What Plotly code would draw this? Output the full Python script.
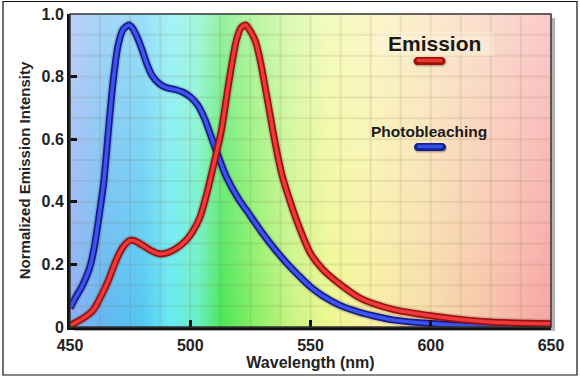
import plotly.graph_objects as go
import numpy as np

# ---------------- data ----------------
wl_photo = [450, 452, 455, 458, 460, 462, 464, 466, 468, 470, 472, 474.5, 476, 478, 480, 482,
            484, 487, 490, 494, 497, 500, 503, 506, 510, 515, 520, 525, 530, 535, 540, 545,
            550, 555, 562, 570, 576, 585, 600, 620, 650]
photobleaching = [0.06, 0.09, 0.13, 0.185, 0.25, 0.35, 0.46, 0.63, 0.79, 0.90, 0.95, 0.965, 0.955,
                  0.925, 0.885, 0.84, 0.805, 0.778, 0.765, 0.758, 0.75, 0.735, 0.71, 0.665, 0.58,
                  0.48, 0.41, 0.355, 0.30, 0.25, 0.205, 0.165, 0.128, 0.10, 0.07, 0.048, 0.036,
                  0.022, 0.011, 0.004, 0.0]

wl_emis = [450, 452, 455, 458, 460, 463, 466, 469, 472, 475, 477, 480, 484, 487, 490, 494, 498,
           501, 504, 507, 510, 513, 516, 519, 521, 523, 525, 527, 529, 532, 535, 538, 542, 546,
           550, 555, 562, 570, 576, 585, 600, 615, 625, 640, 650]
emission = [0.005, 0.013, 0.026, 0.042, 0.058, 0.10, 0.15, 0.21, 0.255, 0.277, 0.275, 0.262, 0.243,
            0.234, 0.236, 0.25, 0.275, 0.305, 0.35, 0.43, 0.527, 0.63, 0.78, 0.91, 0.955, 0.965,
            0.945, 0.915, 0.855, 0.73, 0.60, 0.49, 0.39, 0.305, 0.235, 0.185, 0.138, 0.095,
            0.075, 0.055, 0.036, 0.022, 0.016, 0.012, 0.01]

x_tickvals = [450, 500, 550, 600, 650]
x_ticktext = ["450", "500", "550", "600", "650"]
y_tickvals = [0, 0.2, 0.4, 0.6, 0.8, 1.0]
y_ticktext = ["0", "0.2", "0.4", "0.6", "0.8", "1.0"]

# spectrum background colour stops (wavelength, colour)
spectrum_stops = [(450, "#8eb0f2"), (465, "#62b8f2"), (480, "#54c8f2"), (492, "#68eaf0"),
                  (503, "#68f0c4"), (513, "#4ae65a"), (527, "#8af064"), (542, "#c8f484"),
                  (558, "#eef892"), (575, "#f8f0a2"), (600, "#f8dcaa"), (625, "#f8c2aa"),
                  (650, "#f8a4a4")]

# ---------------- geometry helpers ----------------
W, H = 580, 378
ML, MR, MT, MB = 70, 29, 14, 51
PW, PH = W - ML - MR, H - MT - MB


def px(x):
    return (x - ML) / PW


def py(y):
    return (H - MB - y) / PH


fig = go.Figure()

# background spectrum
xe = np.linspace(450, 650, 201)
ye = np.linspace(0, 1.0, 41)
xc = (xe[:-1] + xe[1:]) / 2
yc = (ye[:-1] + ye[1:]) / 2
z_spec = np.tile(xc, (len(yc), 1))
cs = [[(w - 450) / 200, c] for w, c in spectrum_stops]
fig.add_trace(go.Heatmap(x=xe, y=ye, z=z_spec, colorscale=cs, zmin=450, zmax=650,
                         showscale=False, hoverinfo="skip"))
z_white = np.tile(yc[:, None], (1, len(xc)))
fig.add_trace(go.Heatmap(x=xe, y=ye, z=z_white, zmin=0, zmax=1.0,
                         colorscale=[[0, "rgba(255,255,255,0)"], [1, "rgba(255,255,255,0.42)"]],
                         showscale=False, hoverinfo="skip"))

# tile grid
gx, gy = [], []
for v in np.arange(450 + 12.5, 650, 12.5):
    gx += [v, v, None]
    gy += [0, 1.0, None]
for h in np.arange(1 / 15, 1.0, 1 / 15):
    gx += [450, 650, None]
    gy += [h, h, None]
fig.add_trace(go.Scatter(x=gx, y=gy, mode="lines", line=dict(color="rgba(120,110,70,0.13)", width=2),
                         hoverinfo="skip", showlegend=False))


def curve(x, y, dark, bright, name):
    fig.add_trace(go.Scatter(x=x, y=y, mode="lines", line=dict(color="rgba(0,0,0,0.13)", width=10, shape="spline", smoothing=0.7),
                             hoverinfo="skip", showlegend=False))
    fig.add_trace(go.Scatter(x=x, y=y, mode="lines", line=dict(color=dark, width=7, shape="spline", smoothing=0.7),
                             hoverinfo="skip", showlegend=False))
    fig.add_trace(go.Scatter(x=x, y=y, mode="lines", name=name, line=dict(color=bright, width=3.5, shape="spline", smoothing=0.7),
                             showlegend=False))


curve(wl_photo, photobleaching, "#1a1a8c", "#3c55f0", "Photobleaching")
curve(wl_emis, emission, "#9c1010", "#f03a3a", "Emission")


def pill(cx, cy, w, h):
    x0, x1 = px(cx - w / 2), px(cx + w / 2)
    r = h / 2
    y0, y1 = py(cy + h / 2), py(cy - h / 2)
    xr = r / PW
    ym = py(cy)
    k = 0.55
    return (f"M {x0 + xr} {y0} L {x1 - xr} {y0} "
            f"C {x1 - xr + k * xr} {y0} {x1} {ym - k * (ym - y0)} {x1} {ym} "
            f"C {x1} {ym + k * (y1 - ym)} {x1 - xr + k * xr} {y1} {x1 - xr} {y1} "
            f"L {x0 + xr} {y1} "
            f"C {x0 + xr - k * xr} {y1} {x0} {ym + k * (y1 - ym)} {x0} {ym} "
            f"C {x0} {ym - k * (ym - y0)} {x0 + xr - k * xr} {y0} {x0 + xr} {y0} Z")


shapes = [
    # drop shadow of the plot frame
    dict(type="rect", xref="paper", yref="paper", x0=px(ML + 4), x1=px(ML + PW + 4),
         y0=py(H - MB + 4), y1=py(MT + 4), fillcolor="rgba(0,0,0,0.3)", line=dict(width=0), layer="below"),
    # frame
    dict(type="rect", xref="paper", yref="paper", x0=0, x1=1, y0=0, y1=1,
         line=dict(color="#333333", width=1.5), layer="above"),
    # outer border of the picture
    dict(type="rect", xref="paper", yref="paper", x0=px(3), x1=px(577), y0=py(375), y1=py(1.5),
         line=dict(color="#111111", width=1.2), layer="above"),
    # emission label box
    dict(type="rect", xref="paper", yref="paper", x0=px(376), x1=px(493), y0=py(56), y1=py(32),
         fillcolor="rgba(255,246,222,0.45)", line=dict(width=0), layer="above"),
    # legend pills
    dict(type="path", xref="paper", yref="paper", path=pill(430, 62, 33, 9),
         fillcolor="rgba(0,0,0,0.25)", line=dict(width=0), layer="above"),
    dict(type="path", xref="paper", yref="paper", path=pill(429.5, 61, 32, 8),
         fillcolor="#a01010", line=dict(width=0), layer="above"),
    dict(type="path", xref="paper", yref="paper", path=pill(429.5, 60.5, 26, 3.5),
         fillcolor="#e83a2a", line=dict(width=0), layer="above"),
    dict(type="path", xref="paper", yref="paper", path=pill(430.5, 148, 33, 9),
         fillcolor="rgba(0,0,0,0.25)", line=dict(width=0), layer="above"),
    dict(type="path", xref="paper", yref="paper", path=pill(430, 147, 32, 8),
         fillcolor="#14208e", line=dict(width=0), layer="above"),
    dict(type="path", xref="paper", yref="paper", path=pill(430, 146.5, 26, 3.5),
         fillcolor="#3050e8", line=dict(width=0), layer="above"),
]

annotations = [
    dict(text="Emission", x=px(434), y=py(43.5), xref="paper", yref="paper", showarrow=False,
         xanchor="center", yanchor="middle",
         font=dict(family="Liberation Sans, Arial, sans-serif", size=21, color="#1a1a1a", weight="bold")),
    dict(text="Photobleaching", x=px(429), y=py(131), xref="paper", yref="paper", showarrow=False,
         xanchor="center", yanchor="middle",
         font=dict(family="Liberation Sans, Arial, sans-serif", size=15.5, color="#1a1a1a", weight="bold")),
]

fontb = dict(family="Liberation Sans, Arial, sans-serif", size=16, color="#222222", weight="bold")

fig.update_layout(
    width=W, height=H,
    margin=dict(l=ML, r=MR, t=MT, b=MB, autoexpand=False),
    paper_bgcolor="white", plot_bgcolor="white",
    showlegend=False,
    shapes=shapes, annotations=annotations,
    xaxis=dict(range=[450, 650], tickvals=x_tickvals, ticktext=x_ticktext, showgrid=False,
               zeroline=False, showline=True, linecolor="#111111", linewidth=3,
               ticks="inside", ticklen=7, tickwidth=3, tickcolor="#111111",
               tickfont=fontb, ticklabelstandoff=2, layer="above traces",
               title=dict(text="Wavelength (nm)", font=dict(family="Liberation Sans, Arial, sans-serif",
                                                             size=16, color="#222222", weight="bold"),
                          standoff=0)),
    yaxis=dict(range=[0, 1.0], tickvals=y_tickvals, ticktext=y_ticktext, showgrid=False,
               zeroline=False, showline=True, linecolor="#111111", linewidth=3,
               ticks="inside", ticklen=7, tickwidth=3, tickcolor="#111111",
               tickfont=fontb, ticklabelstandoff=0, layer="above traces",
               title=dict(text="Normalized Emission Intensity",
                          font=dict(family="Liberation Sans, Arial, sans-serif", size=15,
                                    color="#222222", weight="bold"),
                          standoff=8)),
)

fig.write_html("out.html", config={"displayModeBar": False},
               post_script="document.body.style.margin='0';document.body.style.overflow='hidden';")
